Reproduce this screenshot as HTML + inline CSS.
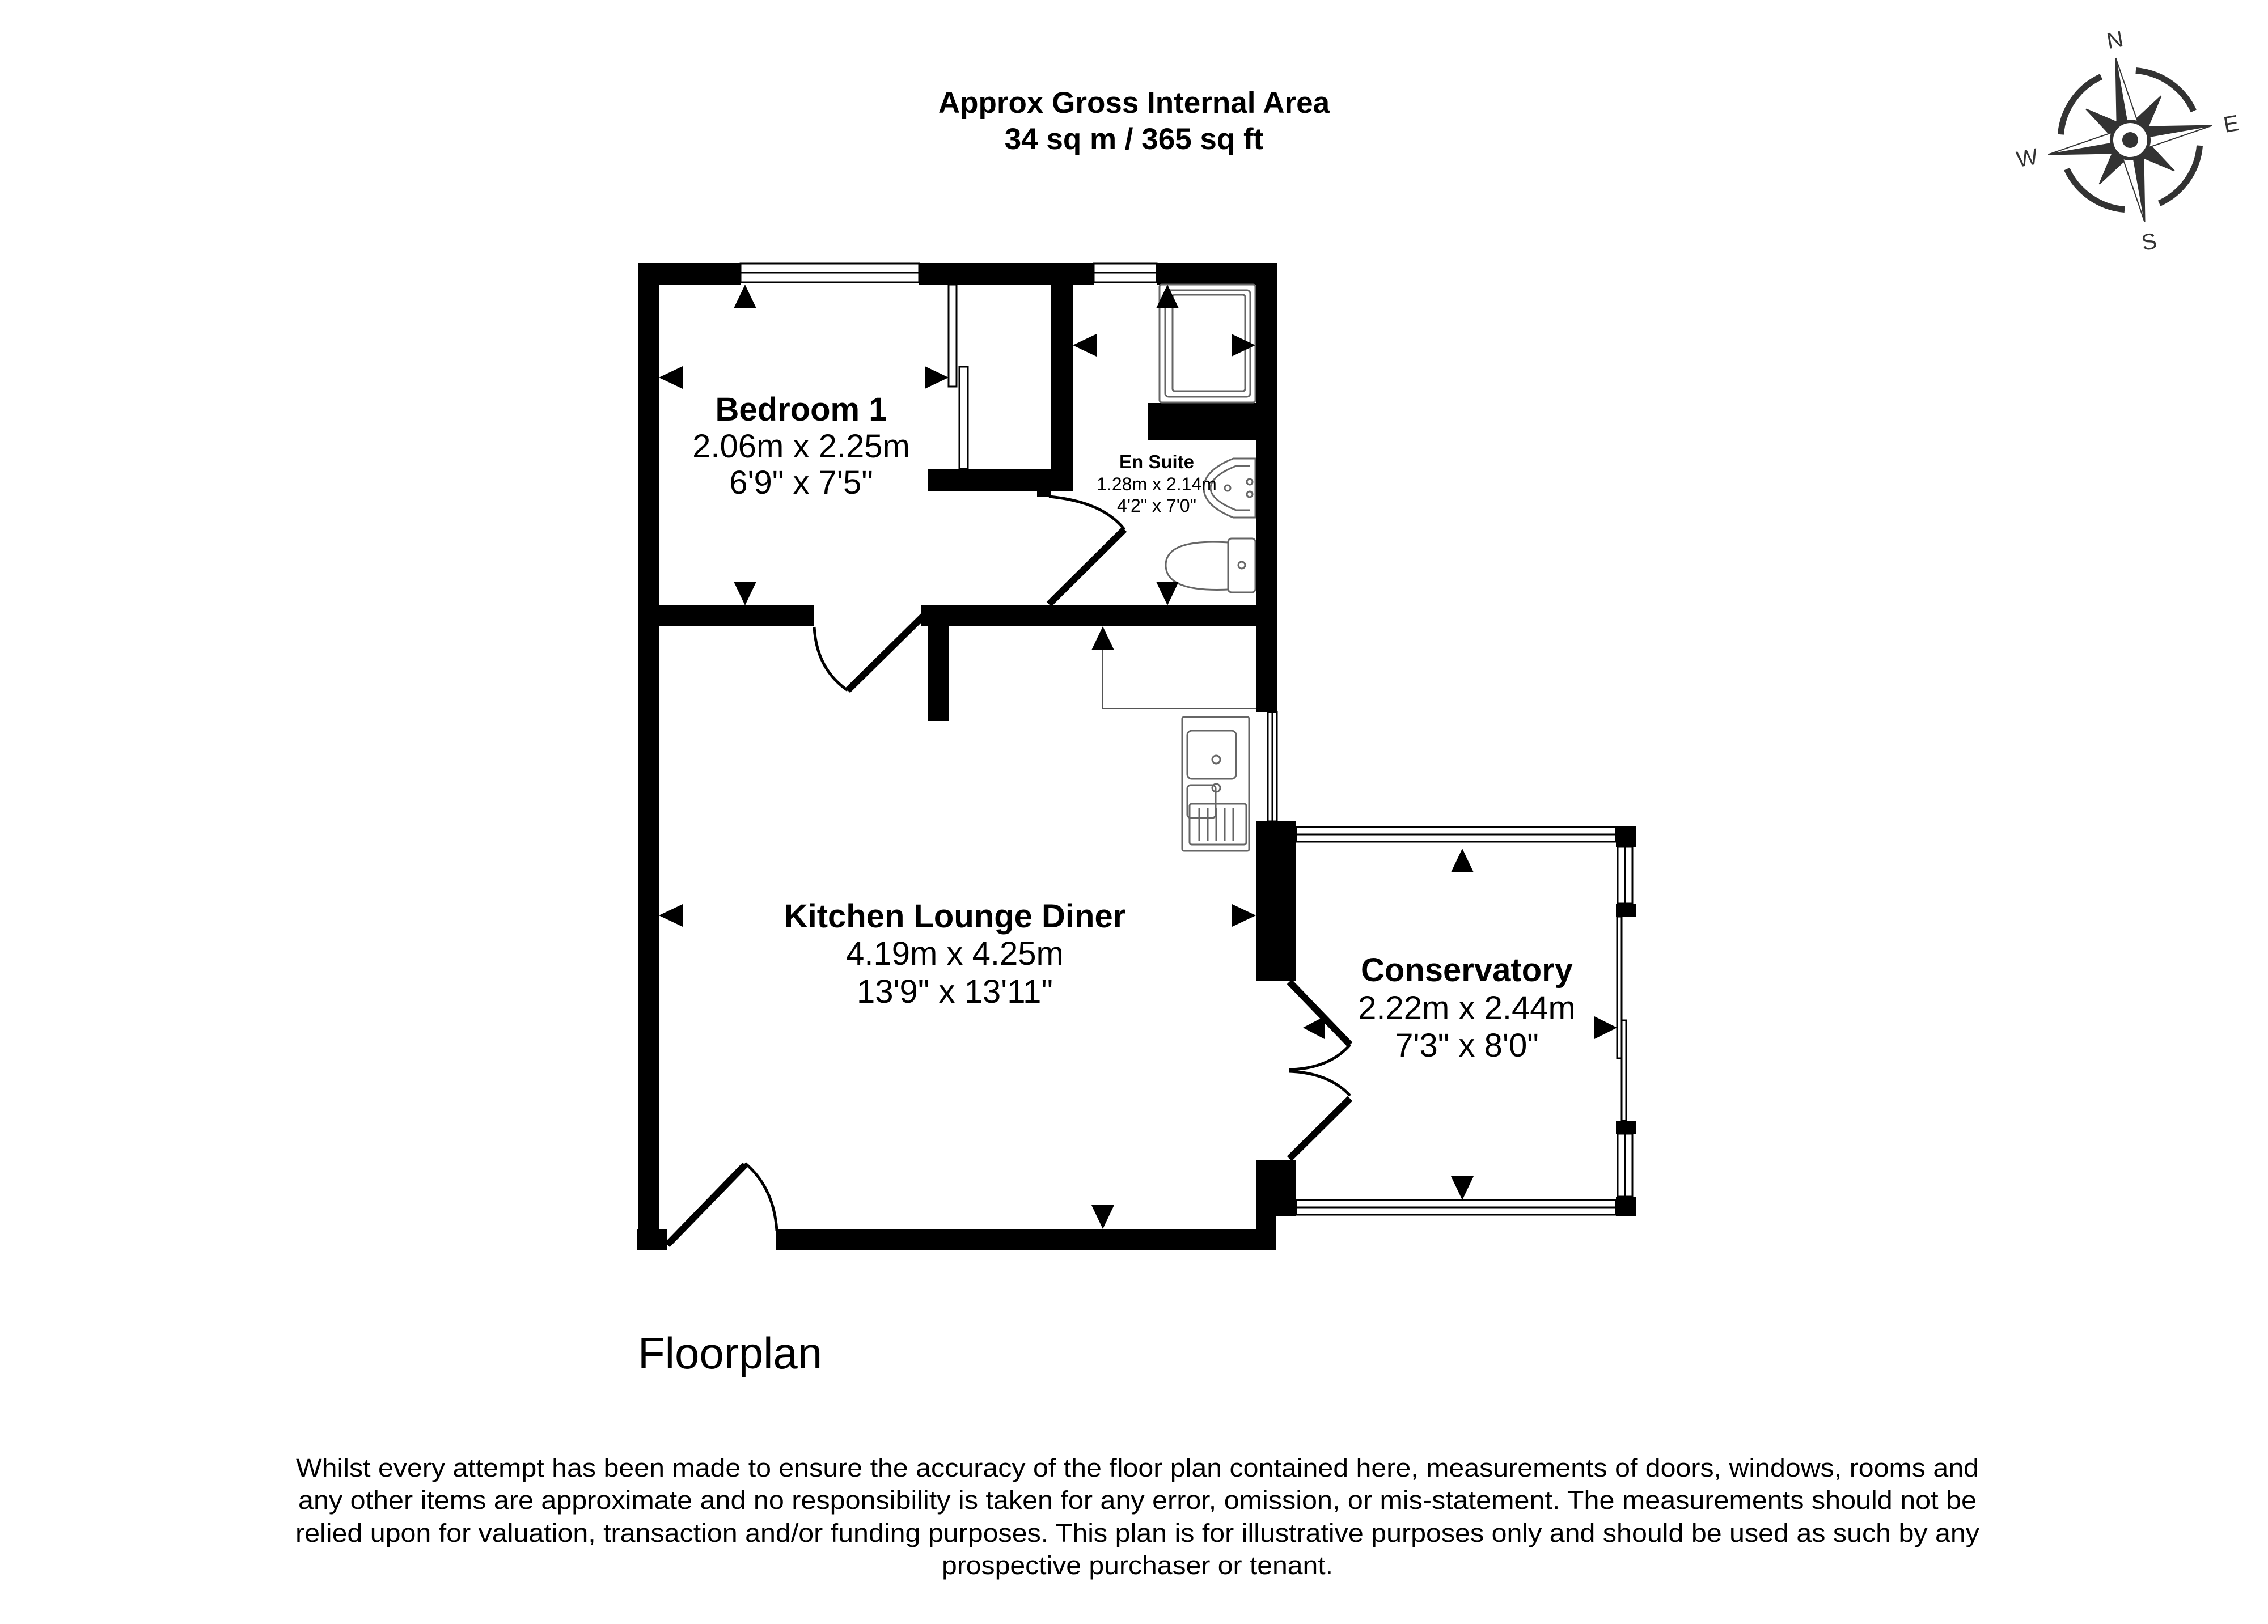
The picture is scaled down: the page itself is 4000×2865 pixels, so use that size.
<!DOCTYPE html>
<html><head><meta charset="utf-8"><style>
html,body{margin:0;padding:0;background:#fff;}
svg{display:block;}
text{font-family:"Liberation Sans",Arial,sans-serif;}
</style></head><body>
<svg width="4000" height="2865" viewBox="0 0 4000 2865" xmlns="http://www.w3.org/2000/svg">
<rect width="4000" height="2865" fill="#fff"/>
<text x="2000" y="199" font-size="53" font-weight="bold" text-anchor="middle">Approx Gross Internal Area</text>
<text x="2000" y="263" font-size="53" font-weight="bold" text-anchor="middle">34 sq m / 365 sq ft</text>

<g fill="#000">
<rect x="1125" y="464" width="181" height="38"/>
<rect x="1621" y="464" width="308" height="38"/>
<rect x="2040" y="464" width="212" height="38"/>
<rect x="1125" y="464" width="37" height="1742"/>
<rect x="2215" y="464" width="37" height="792"/>
<rect x="1854" y="464" width="38" height="403"/>
<rect x="1636" y="827" width="256" height="40"/>
<rect x="1829" y="862" width="25" height="14"/>
<rect x="2025" y="711" width="190" height="65"/>
<rect x="1125" y="1068" width="310" height="37"/>
<rect x="1625" y="1068" width="627" height="37"/>
<rect x="1636" y="1068" width="37" height="204"/>
<rect x="2215" y="1449" width="71" height="281"/>
<rect x="2215" y="2046" width="71" height="99"/>
<rect x="2215" y="2140" width="36" height="66"/>
<rect x="1369" y="2168" width="882" height="38"/>
<rect x="1124" y="2168" width="53" height="38"/>
<rect x="2850" y="1458" width="35" height="36"/>
<rect x="2850" y="1594" width="35" height="23"/>
<rect x="2850" y="1977" width="35" height="23"/>
<rect x="2850" y="2111" width="35" height="34"/>
</g>

<g fill="#fff" stroke="#000" stroke-width="3">
<rect x="1306" y="465" width="315" height="16"/>
<rect x="1306" y="481" width="315" height="17"/>
<rect x="1929" y="465" width="111" height="16"/>
<rect x="1929" y="481" width="111" height="17"/>
<rect x="2236" y="1256" width="8" height="193"/>
<rect x="2244" y="1256" width="8" height="193"/>
<rect x="2286" y="1459" width="564" height="13"/>
<rect x="2286" y="1472" width="564" height="13"/>
<rect x="2286" y="2117" width="564" height="13"/>
<rect x="2286" y="2130" width="564" height="13"/>
<rect x="2853" y="1494" width="13" height="100"/>
<rect x="2866" y="1494" width="13" height="100"/>
<rect x="2853" y="2000" width="13" height="111"/>
<rect x="2866" y="2000" width="13" height="111"/>
<rect x="2852" y="1617" width="8" height="250"/>
<rect x="2860" y="1800" width="8" height="177"/>
<rect x="1673" y="502" width="14" height="180"/>
<rect x="1692" y="647" width="15" height="180"/>
</g>

<g fill="none" stroke="#000">
<line x1="1983" y1="934" x2="1850" y2="1066" stroke-width="12"/>
<path d="M1850 876 Q1945 885 1983 934" stroke-width="5"/>
<line x1="1630" y1="1085" x2="1495" y2="1218" stroke-width="12"/>
<path d="M1436 1106 Q1440 1180 1495 1218" stroke-width="5"/>
<line x1="1177" y1="2196" x2="1314" y2="2055" stroke-width="12"/>
<path d="M1314 2052 Q1365 2095 1370 2171" stroke-width="5"/>
<line x1="2274" y1="1732" x2="2381" y2="1843" stroke-width="12"/>
<path d="M2381 1843 Q2345 1885 2274 1887" stroke-width="5"/>
<path d="M2274 1890 Q2345 1893 2381 1933" stroke-width="5"/>
<line x1="2381" y1="1938" x2="2274" y2="2044" stroke-width="12"/>
<polyline points="1945,1110 1945,1250 2215,1250" stroke-width="2" stroke="#555"/>
</g>

<g fill="none" stroke="#666" stroke-width="3">
<rect x="2045" y="502" width="169" height="208" rx="4"/>
<rect x="2055" y="512" width="150" height="188" rx="6"/>
<rect x="2068" y="520" width="128" height="170" rx="4"/>
<circle cx="2186" cy="608" r="6"/>
<path d="M2214 809 L2175 809 Q2123 830 2123 861 Q2123 892 2175 913 L2214 913 Z"/>
<path d="M2204 822 L2180 822 Q2135 840 2135 861 Q2135 882 2180 900 L2204 900"/>
<circle cx="2165" cy="861" r="5"/><circle cx="2204" cy="850" r="5"/><circle cx="2204" cy="872" r="5"/>
<rect x="2166" y="950" width="48" height="95" rx="6"/>
<path d="M2166 957 Q2056 950 2056 997 Q2056 1045 2166 1040"/>
<circle cx="2190" cy="997" r="6"/>
<rect x="2085" y="1265" width="118" height="236" rx="3"/>
<rect x="2094" y="1289" width="86" height="85" rx="8"/>
<rect x="2094" y="1385" width="50" height="58" rx="6"/>
<circle cx="2145" cy="1340" r="7"/><circle cx="2145" cy="1390" r="7"/>
<rect x="2098" y="1418" width="100" height="72" rx="4"/>
<line x1="2115" y1="1425" x2="2115" y2="1484"/><line x1="2130" y1="1425" x2="2130" y2="1484"/>
<line x1="2145" y1="1425" x2="2145" y2="1484"/><line x1="2160" y1="1425" x2="2160" y2="1484"/>
<line x1="2175" y1="1425" x2="2175" y2="1484"/>
</g>

<g fill="#000">
<polygon points="1314,502 1294,544 1334,544"/>
<polygon points="1314,1068 1294,1026 1334,1026"/>
<polygon points="1162,666 1204,646 1204,686"/>
<polygon points="1673,666 1631,646 1631,686"/>
<polygon points="2059,502 2039,544 2079,544"/>
<polygon points="2059,1068 2039,1026 2079,1026"/>
<polygon points="1892,609 1934,589 1934,629"/>
<polygon points="2214,609 2172,589 2172,629"/>
<polygon points="1945,1105 1925,1147 1965,1147"/>
<polygon points="1945,2168 1925,2126 1965,2126"/>
<polygon points="1162,1615 1204,1595 1204,1635"/>
<polygon points="2215,1615 2173,1595 2173,1635"/>
<polygon points="2579,1497 2559,1539 2599,1539"/>
<polygon points="2579,2117 2559,2075 2599,2075"/>
<polygon points="2298,1813 2336,1793 2336,1833"/>
<polygon points="2852,1813 2812,1793 2812,1833"/>
</g>

<g text-anchor="middle">
<text x="1413" y="742" font-size="58" font-weight="bold">Bedroom 1</text>
<text x="1413" y="807" font-size="58">2.06m x 2.25m</text>
<text x="1413" y="871" font-size="58">6'9" x 7'5"</text>
<text x="2040" y="826" font-size="33" font-weight="bold">En Suite</text>
<text x="2040" y="865" font-size="32">1.28m x 2.14m</text>
<text x="2040" y="903" font-size="32">4'2" x 7'0"</text>
<text x="1684" y="1636" font-size="58" font-weight="bold">Kitchen Lounge Diner</text>
<text x="1684" y="1702" font-size="58">4.19m x 4.25m</text>
<text x="1684" y="1769" font-size="58">13'9" x 13'11"</text>
<text x="2587" y="1731" font-size="58" font-weight="bold">Conservatory</text>
<text x="2587" y="1798" font-size="58">2.22m x 2.44m</text>
<text x="2587" y="1864" font-size="58">7'3" x 8'0"</text>
</g>

<text x="1125" y="2414" font-size="78">Floorplan</text>

<g font-size="45" text-anchor="middle">
<text x="2006" y="2605" textLength="2968" lengthAdjust="spacingAndGlyphs">Whilst every attempt has been made to ensure the accuracy of the floor plan contained here, measurements of doors, windows, rooms and</text>
<text x="2006" y="2662" textLength="2960" lengthAdjust="spacingAndGlyphs">any other items are approximate and no responsibility is taken for any error, omission, or mis-statement. The measurements should not be</text>
<text x="2006" y="2720" textLength="2970" lengthAdjust="spacingAndGlyphs">relied upon for valuation, transaction and/or funding purposes. This plan is for illustrative purposes only and should be used as such by any</text>
<text x="2006" y="2777" textLength="690" lengthAdjust="spacingAndGlyphs">prospective purchaser or tenant.</text>
</g>

<g transform="translate(3757,247) rotate(-10)">
<g fill="none" stroke="#333" stroke-width="11">
<path d="M-31 -119 A123 123 0 0 0 -119 -31"/>
<path d="M31 -119 A123 123 0 0 1 119 -31"/>
<path d="M-31 119 A123 123 0 0 1 -119 31"/>
<path d="M31 119 A123 123 0 0 0 119 31"/>
</g>
<g fill="#333" stroke="#333" stroke-width="2">
<g transform="rotate(45)">
<polygon points="0,-95 -16,-20 16,-20"/>
<polygon points="0,95 -16,20 16,20"/>
<polygon points="-95,0 -20,-16 -20,16"/>
<polygon points="95,0 20,-16 20,16"/>
</g>
<polygon points="0,-147 -20,-20 0,0" />
<polygon points="0,-147 20,-20 0,0" fill="#fff"/>
<polygon points="0,147 20,20 0,0"/>
<polygon points="0,147 -20,20 0,0" fill="#fff"/>
<polygon points="147,0 20,-20 0,0"/>
<polygon points="147,0 20,20 0,0" fill="#fff"/>
<polygon points="-147,0 -20,20 0,0"/>
<polygon points="-147,0 -20,-20 0,0" fill="#fff"/>
</g>
<circle r="33" fill="#fff" stroke="#333" stroke-width="6"/>
<circle r="14" fill="#333"/>
</g>
<g font-size="40" fill="#333" text-anchor="middle">
<text x="3730" y="84" transform="rotate(-10 3730 70)">N</text>
<text x="3935" y="232" transform="rotate(-10 3935 218)">E</text>
<text x="3790" y="440" transform="rotate(-10 3790 425)">S</text>
<text x="3575" y="292" transform="rotate(-10 3575 278)">W</text>
</g>
</svg>
</body></html>
